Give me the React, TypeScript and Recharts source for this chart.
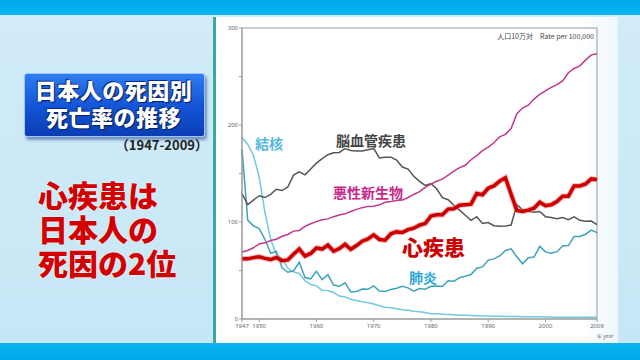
import React from 'react';
import { LineChart, Line, XAxis, YAxis, ReferenceArea } from 'recharts';

const years = [
  1947, 1948, 1949, 1950, 1951, 1952, 1953, 1954, 1955, 1956,
  1957, 1958, 1959, 1960, 1961, 1962, 1963, 1964, 1965, 1966,
  1967, 1968, 1969, 1970, 1971, 1972, 1973, 1974, 1975, 1976,
  1977, 1978, 1979, 1980, 1981, 1982, 1983, 1984, 1985, 1986,
  1987, 1988, 1989, 1990, 1991, 1992, 1993, 1994, 1995, 1996,
  1997, 1998, 1999, 2000, 2001, 2002, 2003, 2004, 2005, 2006,
  2007, 2008, 2009,
];

const heart = [
  62.2, 62.0, 63.3, 64.2, 62.5, 61.3, 63.4, 60.1, 60.9, 66.8,
  72.1, 64.8, 67.6, 73.2, 72.1, 76.2, 70.0, 72.6, 77.0, 71.9,
  75.7, 80.2, 82.5, 86.7, 82.0, 81.2, 87.9, 89.8, 89.2, 92.2,
  93.6, 96.8, 98.4, 106.2, 107.4, 107.4, 113.3, 113.6, 117.3, 117.9,
  118.4, 129.4, 128.1, 134.8, 137.2, 142.2, 145.6, 128.6, 112.0, 110.8,
  112.2, 114.3, 120.4, 116.8, 117.8, 121.0, 126.5, 126.5, 137.2, 137.2,
  139.2, 144.4, 143.7,
];

const cancer = [
  69.0, 70.6, 73.4, 77.4, 78.5, 80.9, 82.2, 85.3, 87.1, 90.6,
  91.3, 95.5, 98.2, 100.4, 102.3, 103.2, 105.5, 107.2, 108.4, 110.8,
  113.0, 114.8, 116.1, 116.3, 117.7, 120.4, 121.2, 122.2, 122.6, 125.3,
  128.4, 131.3, 135.7, 139.1, 142.0, 144.2, 148.3, 152.5, 156.1, 158.5,
  164.2, 168.4, 173.6, 177.2, 181.7, 187.8, 190.4, 196.4, 211.6, 217.5,
  220.4, 226.7, 231.6, 235.2, 238.8, 241.7, 245.4, 253.9, 258.3, 261.0,
  266.9, 272.3, 273.5,
];

const cerebro = [
  129.4, 117.9, 122.6, 127.1, 125.2, 128.5, 133.7, 132.4, 136.1, 148.4,
  151.7, 148.6, 154.7, 160.7, 165.4, 169.4, 171.4, 171.7, 175.8, 173.8,
  173.1, 173.1, 174.4, 175.8, 166.1, 166.7, 166.8, 163.8, 156.7, 154.5,
  147.2, 141.9, 137.7, 139.5, 134.3, 125.1, 123.0, 117.2, 112.2, 106.9,
  101.7, 105.5, 98.5, 99.4, 96.2, 95.6, 96.0, 96.9, 117.9, 112.6,
  111.0, 110.0, 110.8, 105.5, 104.7, 103.4, 104.7, 102.3, 105.3, 101.7,
  100.8, 100.9, 97.2,
];

const pneumonia = [
  174.8, 102.0, 96.0, 93.2, 82.2, 67.7, 69.6, 52.8, 48.2, 49.6,
  58.5, 42.7, 41.4, 49.3, 40.6, 45.6, 35.0, 33.7, 37.3, 27.9,
  28.4, 30.8, 30.6, 34.1, 28.9, 28.3, 30.5, 31.8, 33.7, 32.1,
  28.8, 31.4, 30.7, 33.7, 34.1, 33.6, 39.4, 39.0, 42.7, 44.1,
  45.9, 52.3, 53.7, 60.7, 62.0, 65.0, 70.6, 72.4, 64.1, 56.9,
  63.1, 63.8, 74.9, 69.2, 67.8, 69.4, 75.3, 75.7, 85.0, 85.0,
  87.4, 91.6, 89.0,
];

const tuberculosis = [
  187.2, 179.9, 168.8, 146.4, 110.3, 82.2, 66.5, 62.4, 52.3, 48.6,
  46.9, 39.4, 35.5, 34.2, 29.6, 29.3, 27.3, 23.6, 22.8, 20.3,
  19.0, 17.8, 16.8, 15.4, 13.7, 12.2, 11.6, 10.6, 9.5, 8.9,
  7.9, 7.4, 6.7, 5.5, 5.3, 4.9, 4.7, 4.4, 3.9, 3.8,
  3.5, 3.3, 3.1, 3.0, 2.8, 2.8, 2.6, 2.6, 2.6, 2.3,
  2.2, 2.2, 2.3, 2.1, 2.0, 1.8, 1.9, 1.8, 1.8, 1.7,
  1.7, 1.8, 1.7,
];

const xTicks = [1947, 1950, 1960, 1970, 1980, 1990, 2000, 2009];
const yTicks = [0, 50, 100, 150, 200, 250, 300];
const messageLines = ['心疾患は', '日本人の', '死因の2位'];

const data = years.map((y, i) => ({
  year: y,
  heart: heart[i],
  cancer: cancer[i],
  cerebro: cerebro[i],
  pneumonia: pneumonia[i],
  tuberculosis: tuberculosis[i],
}));

const JP = '"Noto Sans CJK JP", "Noto Sans", sans-serif';

const abs = (s: React.CSSProperties): React.CSSProperties => ({ position: 'absolute', ...s });

export default function App() {
  return (
    <div style={{ position: 'fixed', left: 0, top: 0, width: 640, height: 360, overflow: 'hidden', background: 'linear-gradient(180deg, #d2ecf8 0%, #c6e6f5 100%)', fontFamily: JP }}>
      {/* top & bottom bands */}
      <div style={abs({ left: 0, top: 0, width: 640, height: 15, background: 'linear-gradient(180deg,#00a9ec,#06b6f2)' })} />
      <div style={abs({ left: 0, top: 343, width: 640, height: 17, background: 'linear-gradient(180deg,#0bb4f0,#00a8ea)' })} />
      {/* white chart panel */}
      <div style={abs({ left: 213, top: 17, width: 402, height: 326, background: 'linear-gradient(90deg,#ffffff 0%,#ffffff 90%,#eef7fc 100%)', borderLeft: '3px solid #3aa6a8' })} />

      {/* title box */}
      <div style={abs({ left: 24, top: 73, width: 179, height: 62, borderRadius: 3, background: 'linear-gradient(180deg,#2f7cf0 0%,#1456d8 50%,#0b3db4 100%)', border: '1px solid #9cc4ff', boxShadow: '2px 3px 3px rgba(0,40,120,0.45)' })} />
      <div style={abs({ left: 24, top: 76, width: 179, textAlign: 'center', color: '#ffffff', fontWeight: 900, fontSize: 22, lineHeight: '27px', letterSpacing: 0.5, textShadow: '1px 1px 1px #04205e, -1px -1px 0 #0a2c80' })}>
        日本人の死因別<br />死亡率の推移
      </div>
      <div style={abs({ left: 96, top: 137, width: 112, textAlign: 'right', color: '#222', fontWeight: 700, fontSize: 13, lineHeight: '16px', whiteSpace: 'nowrap' })}>（1947-2009）</div>

      {/* red message */}
      {messageLines.map((t, i) => (
        <div key={t} style={abs({ left: 38, top: 179 + i * 34, height: 30, color: '#d20000', fontWeight: 900, fontSize: 30, lineHeight: '30px', whiteSpace: 'nowrap', textShadow: '0 0 2px #ffffff' })}>
          {t}
        </div>
      ))}

      <div style={abs({ left: 0, top: 0 })}>
        <LineChart width={640} height={360} data={data} margin={{ top: 28, right: 43, bottom: 21, left: 0 }}>
          <XAxis
            dataKey="year"
            type="number"
            domain={[1947, 2009]}
            ticks={xTicks}
            interval={0}
            tick={{ fontSize: 6, fill: '#666', fontFamily: '"Noto Sans", sans-serif' }}
            tickSize={3}
            tickMargin={2}
            stroke="#999"
            height={20}
          />
          <YAxis
            type="number"
            domain={[0, 300]}
            ticks={yTicks}
            interval={0}
            width={242}
            tick={{ fontSize: 6, fill: '#666', fontFamily: '"Noto Sans", sans-serif' }}
            tickFormatter={(v: number) => (v % 100 === 0 ? String(v) : '')}
            tickSize={3}
            tickMargin={1}
            stroke="#999"
          />
          <ReferenceArea x1={1947} x2={2009} y1={0} y2={300} fill="none" stroke="#999" strokeWidth={1} ifOverflow="visible" />
          <Line type="linear" dataKey="tuberculosis" stroke="#72c8df" strokeWidth={1.5} dot={false} isAnimationActive={false} />
          <Line type="linear" dataKey="pneumonia" stroke="#3da3bb" strokeWidth={1.5} dot={false} isAnimationActive={false} />
          <Line type="linear" dataKey="cerebro" stroke="#555555" strokeWidth={1.5} dot={false} isAnimationActive={false} />
          <Line type="linear" dataKey="cancer" stroke="#c2388a" strokeWidth={1.5} dot={false} isAnimationActive={false} />
          <Line type="linear" dataKey="heart" stroke="#f08080" strokeOpacity={0.6} strokeWidth={5.5} dot={false} isAnimationActive={false} />
          <Line type="linear" dataKey="heart" stroke="#cc0000" strokeWidth={3.5} dot={false} isAnimationActive={false} />
        </LineChart>
      </div>

      {/* chart annotations */}
      <div style={abs({ left: 440, top: 31, width: 154, textAlign: 'right', fontSize: 7, color: '#444', whiteSpace: 'nowrap' })}>人口10万対　Rate per 100,000</div>
      <div style={abs({ left: 597, top: 333, height: 5, fontSize: 5, color: '#666', lineHeight: '5px', whiteSpace: 'nowrap' })}>年 year</div>
      <div style={abs({ left: 255, top: 133, fontSize: 14, fontWeight: 700, color: '#55b9e0', whiteSpace: 'nowrap' })}>結核</div>
      <div style={abs({ left: 336, top: 130, fontSize: 14, fontWeight: 700, color: '#444', whiteSpace: 'nowrap' })}>脳血管疾患</div>
      <div style={abs({ left: 333, top: 182, fontSize: 14, fontWeight: 700, color: '#c8288a', whiteSpace: 'nowrap' })}>悪性新生物</div>
      <div style={abs({ left: 402, top: 231, fontSize: 21, fontWeight: 900, color: '#cc0000', whiteSpace: 'nowrap' })}>心疾患</div>
      <div style={abs({ left: 409, top: 267, fontSize: 14, fontWeight: 700, color: '#2aa6d6', whiteSpace: 'nowrap' })}>肺炎</div>
    </div>
  );
}
